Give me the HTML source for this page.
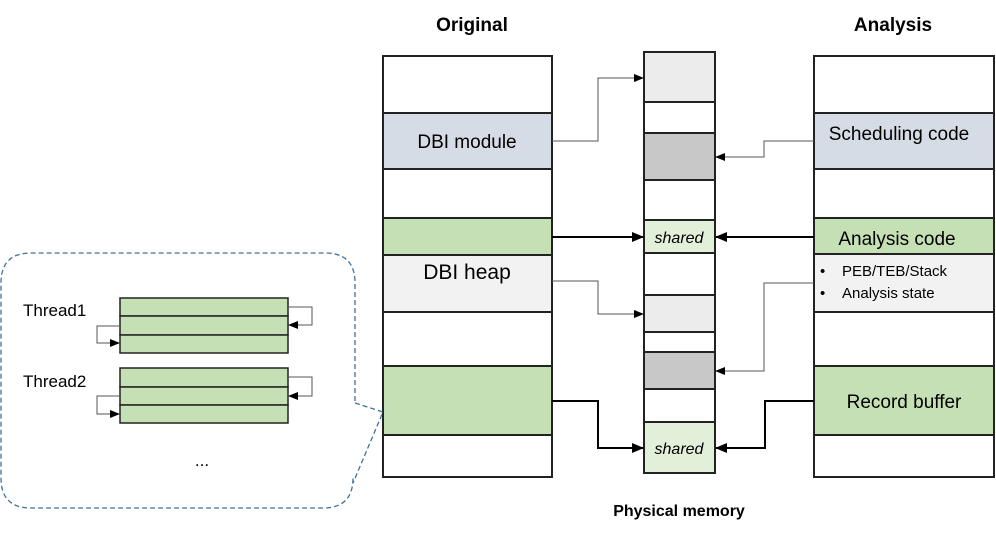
<!DOCTYPE html>
<html><head><meta charset="utf-8"><style>
html,body{margin:0;padding:0;background:#fff;}
svg{display:block;font-family:"Liberation Sans",sans-serif;}
</style></head><body>
<svg width="996" height="536" viewBox="0 0 996 536" xmlns="http://www.w3.org/2000/svg">
<defs>
<marker id="a" markerWidth="10" markerHeight="8" refX="9" refY="4" orient="auto" markerUnits="userSpaceOnUse"><path d="M0,0 L10,4 L0,8 z" fill="#000"/></marker>
<marker id="b" markerWidth="12" markerHeight="10" refX="11" refY="5" orient="auto" markerUnits="userSpaceOnUse"><path d="M0,0 L12,5 L0,10 z" fill="#000"/></marker>
</defs>
<!-- titles -->
<text x="472" y="31" font-size="19" font-weight="bold" text-anchor="middle">Original</text>
<text x="893" y="31" font-size="19" font-weight="bold" text-anchor="middle">Analysis</text>
<text x="679" y="516" font-size="16" font-weight="bold" text-anchor="middle">Physical memory</text>

<!-- Original column -->
<g stroke="#222" stroke-width="2">
<rect x="383" y="56" width="169" height="57" fill="#fff"/>
<rect x="383" y="113" width="169" height="56" fill="#d6dce5"/>
<rect x="383" y="169" width="169" height="49" fill="#fff"/>
<rect x="383" y="218" width="169" height="37" fill="#c5e0b4"/>
<rect x="383" y="255" width="169" height="57" fill="#f2f2f2"/>
<rect x="383" y="312" width="169" height="54" fill="#fff"/>
<rect x="383" y="366" width="169" height="69" fill="#c5e0b4"/>
<rect x="383" y="435" width="169" height="42" fill="#fff"/>
</g>
<text x="467" y="148" font-size="19" text-anchor="middle">DBI module</text>
<text x="467" y="279" font-size="21" text-anchor="middle">DBI heap</text>

<!-- Physical column -->
<g stroke="#222" stroke-width="2">
<rect x="644" y="52" width="71" height="50" fill="#ececec"/>
<rect x="644" y="102" width="71" height="31" fill="#fff"/>
<rect x="644" y="133" width="71" height="47" fill="#c8c8c8"/>
<rect x="644" y="180" width="71" height="40" fill="#fff"/>
<rect x="644" y="220" width="71" height="33" fill="#e2f0d9"/>
<rect x="644" y="253" width="71" height="42" fill="#fff"/>
<rect x="644" y="295" width="71" height="37" fill="#ececec"/>
<rect x="644" y="332" width="71" height="20" fill="#fff"/>
<rect x="644" y="352" width="71" height="37" fill="#c8c8c8"/>
<rect x="644" y="389" width="71" height="33" fill="#fff"/>
<rect x="644" y="422" width="71" height="51" fill="#e2f0d9"/>
</g>
<text x="679" y="243" font-size="16" font-style="italic" text-anchor="middle">shared</text>
<text x="679" y="454" font-size="16" font-style="italic" text-anchor="middle">shared</text>

<!-- Analysis column -->
<g stroke="#222" stroke-width="2">
<rect x="814" y="56" width="180" height="57" fill="#fff"/>
<rect x="814" y="113" width="180" height="56" fill="#d6dce5"/>
<rect x="814" y="169" width="180" height="49" fill="#fff"/>
<rect x="814" y="218" width="180" height="36" fill="#c5e0b4"/>
<rect x="814" y="254" width="180" height="58" fill="#f2f2f2"/>
<rect x="814" y="312" width="180" height="54" fill="#fff"/>
<rect x="814" y="366" width="180" height="69" fill="#c5e0b4"/>
<rect x="814" y="435" width="180" height="42" fill="#fff"/>
</g>
<text x="899" y="140" font-size="19" text-anchor="middle">Scheduling code</text>
<text x="897" y="245" font-size="19" text-anchor="middle">Analysis code</text>
<text x="820" y="276" font-size="15">•</text>
<text x="842" y="276" font-size="15">PEB/TEB/Stack</text>
<text x="820" y="298" font-size="15">•</text>
<text x="842" y="298" font-size="15">Analysis state</text>
<text x="904" y="408" font-size="19" text-anchor="middle">Record buffer</text>

<!-- connectors -->
<g fill="none">
<polyline points="552,141 598,141 598,78 643,78" stroke="#555" stroke-width="1" marker-end="url(#a)"/>
<polyline points="552,237 643,237" stroke="#000" stroke-width="2" marker-end="url(#b)"/>
<polyline points="552,281 598,281 598,314 643,314" stroke="#555" stroke-width="1" marker-end="url(#a)"/>
<polyline points="552,401 598,401 598,448 643,448" stroke="#000" stroke-width="2" marker-end="url(#b)"/>
<polyline points="814,141 764,141 764,157 716,157" stroke="#555" stroke-width="1" marker-end="url(#a)"/>
<polyline points="814,237 716,237" stroke="#000" stroke-width="2" marker-end="url(#b)"/>
<polyline points="814,283 764,283 764,371 716,371" stroke="#555" stroke-width="1" marker-end="url(#a)"/>
<polyline points="814,401 765,401 765,448 716,448" stroke="#000" stroke-width="2" marker-end="url(#b)"/>
</g>

<!-- callout bubble -->
<path d="M355,403 L383,412 L353,483 L353,478 Q353,508 323,508 L31,508 Q1,508 1,478 L1,283 Q1,253 31,253 L325,253 Q355,253 355,283 Z" fill="none" stroke="#41719c" stroke-width="1.3" stroke-dasharray="5,3"/>

<!-- threads -->
<g stroke="#222" stroke-width="1.5" fill="#c5e0b4">
<rect x="120" y="298" width="168" height="18"/>
<rect x="120" y="316" width="168" height="19"/>
<rect x="120" y="335" width="168" height="18"/>
<rect x="120" y="368" width="168" height="19"/>
<rect x="120" y="387" width="168" height="18"/>
<rect x="120" y="405" width="168" height="18"/>
</g>
<g fill="none" stroke="#555" stroke-width="1">
<polyline points="288,307 312,307 312,325 289,325" marker-end="url(#a)"/>
<polyline points="120,326 97,326 97,343 119,343" marker-end="url(#a)"/>
<polyline points="288,377 312,377 312,396 289,396" marker-end="url(#a)"/>
<polyline points="120,396 97,396 97,414 119,414" marker-end="url(#a)"/>
</g>
<text x="23" y="316" font-size="17">Thread1</text>
<text x="23" y="387" font-size="17">Thread2</text>
<text x="202" y="466" font-size="17" text-anchor="middle">...</text>
</svg>
</body></html>
